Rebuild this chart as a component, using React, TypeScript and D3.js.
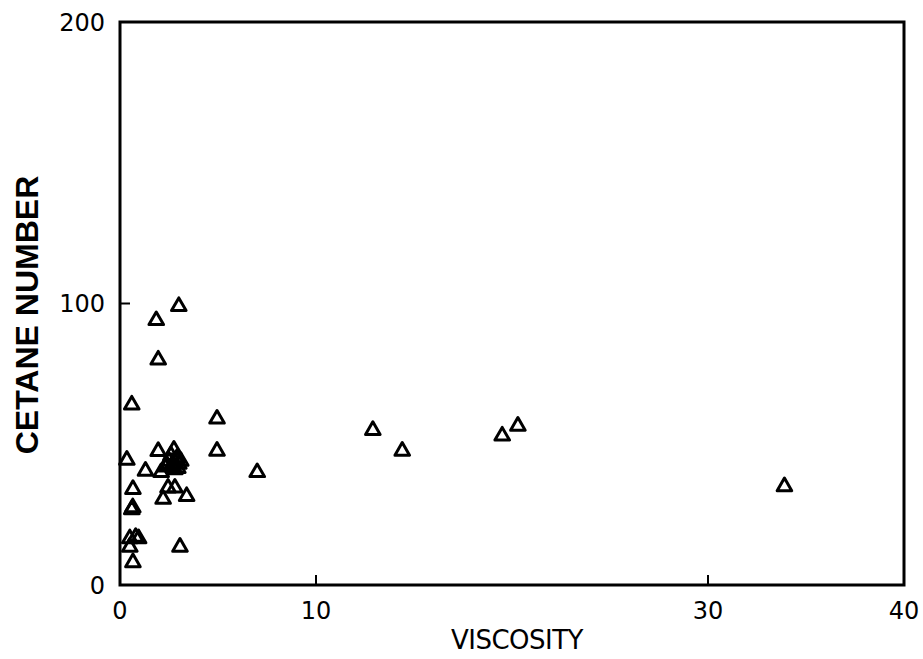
import React from "react";
import * as d3 from "d3";

const viscosity = [
  3.0, 1.85, 1.95, 0.6, 4.95, 4.95, 12.9, 14.4, 19.5, 20.3, 7.0, 33.9,
  0.35, 1.3, 1.95, 2.75, 2.3, 2.5, 2.7, 2.9, 3.0, 2.6, 2.8, 3.1, 2.1, 2.4,
  2.45, 2.8, 2.2, 3.4, 0.66, 0.6, 0.65, 0.5, 0.8, 0.95, 0.5, 0.66, 3.06,
  2.65, 2.95,
];
const cetane = [
  99, 94, 80, 64, 59, 47.6, 55, 47.6, 53, 56.5, 40, 35,
  44.4, 40.5, 47.5, 48, 42, 44, 43, 45, 43, 46, 41, 44, 40, 42.5,
  34.5, 34.5, 30.5, 31.5, 34, 26.8, 27.5, 16.5, 17, 16.5, 13.5, 8, 13.5,
  42.5, 41.5,
];
const xTicks = [0, 10, 30, 40];
const yTicks = [0, 100, 200];

export default function App() {
  const x = d3.scaleLinear().domain([0, 40]).range([120, 904]);
  const y = d3.scaleLinear().domain([0, 200]).range([585, 22]);
  const tri = d3.symbol().type(d3.symbolTriangle).size(92)();
  const font = "'DejaVu Sans', sans-serif";
  return (
    <svg width={923} height={659} style={{ position: "absolute", left: 0, top: 0, background: "#fff" }}>
      <rect x={0} y={0} width={923} height={659} fill="#fff" />
      <path
        d={`M${x(0)},${y(200)}H${x(40)}V${y(0)}H${x(0)}Z`}
        fill="none"
        stroke="#000"
        strokeWidth={3}
      />
      <line x1={x(0)} x2={x(0) + 10} y1={y(100)} y2={y(100)} stroke="#000" strokeWidth={2} />
      {[10, 30].map((t) => (
        <line key={t} x1={x(t)} x2={x(t)} y1={y(0)} y2={y(0) - 10} stroke="#000" strokeWidth={2} />
      ))}
      {yTicks.map((t) => (
        <text key={t} x={x(0) - 15} y={y(t)} dy="0.36em" textAnchor="end" fontFamily={font} fontSize={24}>
          {t}
        </text>
      ))}
      {xTicks.map((t) => (
        <text key={t} x={x(t)} y={619} textAnchor="middle" fontFamily={font} fontSize={24}>
          {t}
        </text>
      ))}
      <text x={x(20) + 5} y={649} textAnchor="middle" fontFamily={font} fontSize={26} letterSpacing={-0.5}>
        VISCOSITY
      </text>
      <text
        transform={`translate(38,315) rotate(-90)`}
        textAnchor="middle"
        fontFamily="'Liberation Sans', Arial, sans-serif"
        fontWeight="bold"
        fontSize={32}
      >
        CETANE NUMBER
      </text>
      {viscosity.map((v, i) => (
        <path
          key={i}
          d={tri}
          transform={`translate(${x(v)},${y(cetane[i])})`}
          fill="none"
          stroke="#000"
          strokeWidth={3}
          strokeLinejoin="round"
        />
      ))}
    </svg>
  );
}
